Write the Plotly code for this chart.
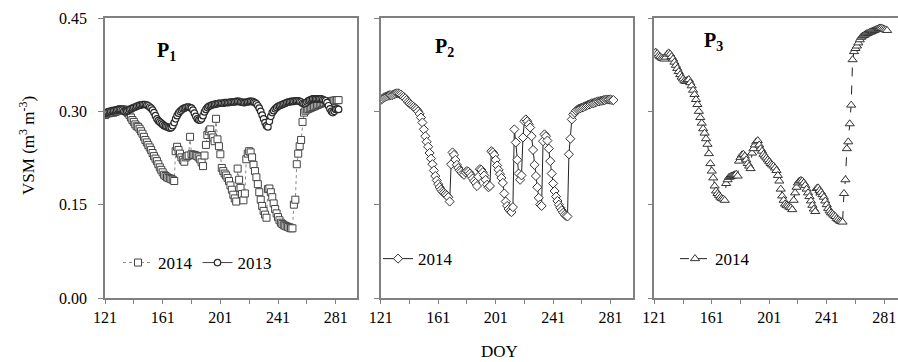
import plotly.graph_objects as go

# Day of year, daily from 121 to 283
doy = list(range(121, 284))

# Volumetric soil moisture (m3 m-3), site P1, 2014
p1_2014 = [
    0.294, 0.296, 0.297, 0.297, 0.298, 0.298, 0.298, 0.299, 0.300, 0.301,  # 121
    0.302, 0.303, 0.303, 0.303, 0.302, 0.300, 0.297, 0.294, 0.290, 0.286,  # 131
    0.283, 0.279, 0.276, 0.275, 0.272, 0.268, 0.264, 0.259, 0.254, 0.250,  # 141
    0.246, 0.242, 0.238, 0.233, 0.228, 0.224, 0.220, 0.215, 0.210, 0.206,  # 151
    0.202, 0.198, 0.196, 0.194, 0.193, 0.192, 0.191, 0.190, 0.188, 0.236,  # 161
    0.243, 0.238, 0.232, 0.226, 0.222, 0.219, 0.226, 0.228, 0.229, 0.259,  # 171
    0.231, 0.230, 0.230, 0.229, 0.228, 0.226, 0.223, 0.218, 0.212, 0.229,  # 181
    0.246, 0.262, 0.268, 0.271, 0.262, 0.258, 0.252, 0.288, 0.255, 0.244,  # 191
    0.231, 0.209, 0.204, 0.200, 0.197, 0.193, 0.188, 0.181, 0.174, 0.166,  # 201
    0.160, 0.155, 0.208, 0.190, 0.177, 0.167, 0.157, 0.168, 0.223, 0.232,  # 211
    0.236, 0.234, 0.226, 0.214, 0.204, 0.194, 0.183, 0.170, 0.158, 0.148,  # 221
    0.140, 0.134, 0.129, 0.175, 0.176, 0.170, 0.162, 0.152, 0.143, 0.136,  # 231
    0.130, 0.125, 0.121, 0.119, 0.117, 0.116, 0.115, 0.114, 0.113, 0.112,  # 241
    0.112, 0.150, 0.158, 0.215, 0.232, 0.244, 0.254, 0.283, 0.298, 0.301,  # 251
    0.303, 0.304, 0.305, 0.306, 0.307, 0.308, 0.309, 0.310, 0.311, 0.312,  # 261
    0.313, 0.314, 0.314, 0.315, 0.315, 0.316, 0.316, 0.316, 0.317, 0.317,  # 271
    0.318, 0.318, 0.318,                                                   # 281
]

# Site P1, 2013
p1_2013 = [
    0.297, 0.298, 0.299, 0.300, 0.300, 0.301, 0.301, 0.302, 0.302, 0.303,  # 121
    0.303, 0.303, 0.302, 0.300, 0.299, 0.300, 0.301, 0.303, 0.304, 0.305,  # 131
    0.306, 0.307, 0.308, 0.309, 0.310, 0.310, 0.311, 0.311, 0.311, 0.310,  # 141
    0.309, 0.307, 0.305, 0.302, 0.298, 0.293, 0.288, 0.285, 0.283, 0.281,  # 151
    0.279, 0.277, 0.276, 0.275, 0.274, 0.273, 0.274, 0.277, 0.282, 0.288,  # 161
    0.293, 0.297, 0.300, 0.302, 0.304, 0.305, 0.306, 0.307, 0.307, 0.306,  # 171
    0.305, 0.302, 0.297, 0.292, 0.288, 0.286, 0.286, 0.288, 0.293, 0.299,  # 181
    0.303, 0.306, 0.308, 0.309, 0.310, 0.311, 0.311, 0.312, 0.312, 0.313,  # 191
    0.313, 0.313, 0.313, 0.314, 0.314, 0.314, 0.314, 0.315, 0.315, 0.315,  # 201
    0.315, 0.316, 0.316, 0.316, 0.315, 0.315, 0.314, 0.314, 0.315, 0.315,  # 211
    0.316, 0.316, 0.316, 0.315, 0.314, 0.312, 0.309, 0.305, 0.300, 0.294,  # 221
    0.288, 0.282, 0.277, 0.275, 0.284, 0.292, 0.298, 0.301, 0.304, 0.306,  # 231
    0.308, 0.309, 0.310, 0.311, 0.312, 0.313, 0.314, 0.315, 0.315, 0.316,  # 241
    0.316, 0.316, 0.317, 0.317, 0.317, 0.316, 0.315, 0.313, 0.312, 0.313,  # 251
    0.315, 0.317, 0.318, 0.319, 0.320, 0.320, 0.320, 0.320, 0.320, 0.320,  # 261
    0.320, 0.319, 0.318, 0.317, 0.314, 0.309, 0.304, 0.300, 0.298, 0.300,  # 271
    0.303, 0.304, 0.303,                                                   # 281
]

# Site P2, 2014
p2_2014 = [
    0.318, 0.320, 0.322, 0.323, 0.324, 0.325, 0.326, 0.326, 0.326, 0.327,  # 121
    0.328, 0.329, 0.329, 0.328, 0.327, 0.325, 0.323, 0.321, 0.318, 0.315,  # 131
    0.313, 0.311, 0.309, 0.307, 0.305, 0.303, 0.300, 0.296, 0.290, 0.282,  # 141
    0.271, 0.260, 0.251, 0.243, 0.233, 0.224, 0.215, 0.205, 0.196, 0.189,  # 151
    0.183, 0.178, 0.174, 0.171, 0.169, 0.167, 0.165, 0.162, 0.155, 0.215,  # 161
    0.234, 0.230, 0.222, 0.214, 0.209, 0.205, 0.203, 0.200, 0.198, 0.202,  # 171
    0.204, 0.203, 0.200, 0.196, 0.192, 0.188, 0.185, 0.180, 0.195, 0.207,  # 181
    0.206, 0.202, 0.197, 0.190, 0.182, 0.178, 0.180, 0.236, 0.234, 0.230,  # 191
    0.222, 0.213, 0.206, 0.199, 0.193, 0.185, 0.168, 0.155, 0.148, 0.143,  # 201
    0.140, 0.138, 0.146, 0.271, 0.250, 0.222, 0.200, 0.190, 0.197, 0.258,  # 211
    0.284, 0.287, 0.284, 0.279, 0.274, 0.260, 0.238, 0.214, 0.196, 0.178,  # 221
    0.161, 0.150, 0.148, 0.252, 0.263, 0.260, 0.253, 0.240, 0.220, 0.200,  # 231
    0.184, 0.172, 0.163, 0.156, 0.150, 0.145, 0.141, 0.137, 0.134, 0.132,  # 241
    0.131, 0.231, 0.256, 0.287, 0.295, 0.298, 0.301, 0.303, 0.304, 0.305,  # 251
    0.306, 0.307, 0.308, 0.309, 0.310, 0.311, 0.312, 0.313, 0.313, 0.314,  # 261
    0.315, 0.316, 0.316, 0.317, 0.317, 0.318, 0.318, 0.319, 0.319, 0.319,  # 271
    0.319, 0.318, 0.318,                                                   # 281
]

# Site P3, 2014
p3_2014 = [
    0.394, 0.395, 0.393, 0.390, 0.388, 0.386, 0.385, 0.384, 0.387, 0.392,  # 121
    0.394, 0.392, 0.388, 0.384, 0.379, 0.374, 0.369, 0.364, 0.359, 0.355,  # 131
    0.352, 0.349, 0.348, 0.350, 0.351, 0.346, 0.341, 0.334, 0.327, 0.319,  # 141
    0.311, 0.300, 0.290, 0.281, 0.272, 0.265, 0.256, 0.247, 0.232, 0.216,  # 151
    0.204, 0.193, 0.180, 0.172, 0.168, 0.165, 0.162, 0.160, 0.159, 0.157,  # 161
    0.184, 0.190, 0.194, 0.195, 0.196, 0.197, 0.198, 0.199, 0.196, 0.220,  # 171
    0.226, 0.230, 0.231, 0.228, 0.222, 0.216, 0.212, 0.208, 0.233, 0.240,  # 181
    0.246, 0.251, 0.253, 0.246, 0.240, 0.236, 0.231, 0.228, 0.225, 0.222,  # 191
    0.219, 0.216, 0.214, 0.212, 0.209, 0.205, 0.197, 0.188, 0.175, 0.164,  # 201
    0.157, 0.151, 0.149, 0.148, 0.146, 0.145, 0.142, 0.157, 0.169, 0.178,  # 211
    0.185, 0.188, 0.189, 0.188, 0.185, 0.181, 0.175, 0.169, 0.163, 0.156,  # 221
    0.149, 0.143, 0.139, 0.176, 0.177, 0.173, 0.170, 0.166, 0.162, 0.156,  # 231
    0.150, 0.144, 0.140, 0.137, 0.135, 0.133, 0.131, 0.128, 0.126, 0.124,  # 241
    0.123, 0.122, 0.168, 0.190, 0.240, 0.251, 0.280, 0.310, 0.383, 0.396,  # 251
    0.401, 0.405, 0.410, 0.415, 0.419, 0.421, 0.422, 0.424, 0.425, 0.426,  # 261
    0.427, 0.428, 0.429, 0.430, 0.431, 0.432, 0.433, 0.434, 0.434, 0.433,  # 271
    0.432, 0.431, 0.430,                                                   # 281
]

x_major = [121, 161, 201, 241, 281]
x_minor = [141, 181, 221, 261]
y_ticks = [0.00, 0.15, 0.30, 0.45]
y_ticktext = ["0.00", "0.15", "0.30", "0.45"]
panel_labels = ["P<sub>1</sub>", "P<sub>2</sub>", "P<sub>3</sub>"]

FONT = "Liberation Serif"
AXIS_GREY = "#808080"
EDGE = "#333333"

fig = go.Figure()

fig.add_trace(go.Scatter(
    x=doy, y=p1_2014, name="2014", mode="lines+markers",
    xaxis="x", yaxis="y", legend="legend",
    line=dict(color="#8a8a8a", width=1, dash="dot"),
    marker=dict(symbol="square", size=7, color="white", line=dict(color="#444444", width=1)),
))
fig.add_trace(go.Scatter(
    x=doy, y=p1_2013, name="2013", mode="lines+markers",
    xaxis="x", yaxis="y", legend="legend",
    line=dict(color="#444444", width=1),
    marker=dict(symbol="circle", size=6.5, color="white", line=dict(color="#2a2a2a", width=1.2)),
))
fig.add_trace(go.Scatter(
    x=doy, y=p2_2014, name="2014", mode="lines+markers",
    xaxis="x2", yaxis="y2", legend="legend2",
    line=dict(color="#222222", width=1),
    marker=dict(symbol="diamond", size=7, color="white", line=dict(color=EDGE, width=1)),
))
fig.add_trace(go.Scatter(
    x=doy, y=p3_2014, name="2014", mode="lines+markers",
    xaxis="x3", yaxis="y3", legend="legend3",
    line=dict(color="#222222", width=1, dash="dash"),
    marker=dict(symbol="triangle-up", size=8, color="white", line=dict(color=EDGE, width=1)),
))

tick_font = dict(family=FONT, size=16, color="#000000")


def x_axis(domain, rng, anchor):
    return dict(
        domain=domain, range=rng, anchor=anchor,
        tickmode="array", tickvals=x_major, ticks="outside", ticklen=4,
        tickcolor=AXIS_GREY, tickwidth=1, tickfont=tick_font,
        minor=dict(tickmode="array", tickvals=x_minor, ticks="outside",
                   ticklen=4, tickcolor=AXIS_GREY, tickwidth=1, showgrid=False),
        showline=True, linecolor=AXIS_GREY, linewidth=1.5, mirror=True,
        showgrid=False, zeroline=False,
    )


def y_axis(anchor, labels, mirror=True):
    return dict(
        domain=[0, 1], range=[0, 0.45], anchor=anchor,
        tickmode="array", tickvals=y_ticks, ticktext=y_ticktext,
        showticklabels=labels, ticks="outside", ticklen=5,
        tickcolor=AXIS_GREY, tickwidth=1, tickfont=tick_font,
        ticklabelstandoff=8,
        showline=True, linecolor=AXIS_GREY, linewidth=1.5, mirror=mirror,
        showgrid=False, zeroline=False,
    )


legend_common = dict(
    orientation="h", yanchor="middle", xanchor="left",
    font=dict(family=FONT, size=17, color="#000000"),
    bgcolor="rgba(0,0,0,0)", borderwidth=0,
    itemwidth=30, tracegroupgap=0,
)

fig.update_layout(
    width=898, height=362,
    margin=dict(l=105, r=0, t=18, b=64),
    paper_bgcolor="white", plot_bgcolor="white",
    font=dict(family=FONT, size=16, color="#000000"),
    xaxis=x_axis([0.0, 0.3182], [121, 296], "y"),
    xaxis2=x_axis([0.3477, 0.6662], [121, 296.8], "y2"),
    xaxis3=x_axis([0.6927, 1.0], [121, 290.6], "y3"),
    yaxis=y_axis("x", True),
    yaxis2=y_axis("x2", False),
    yaxis3=y_axis("x3", False, mirror=False),
    showlegend=True,
    legend=dict(x=0.0164, y=0.125, **legend_common),
    legend2=dict(x=0.3443, y=0.139, **legend_common),
    legend3=dict(x=0.7188, y=0.139, **legend_common),
)

# Site labels inside each panel
label_pos = [("x domain", "y domain", 0.199, 0.932),
             ("x2 domain", "y2 domain", 0.205, 0.947),
             ("x3 domain", "y3 domain", 0.196, 0.968)]
for text, (xr, yr, xx, yy) in zip(panel_labels, label_pos):
    fig.add_annotation(
        text=f"<b>{text}</b>", xref=xr, yref=yr, x=xx, y=yy,
        showarrow=False, font=dict(family=FONT, size=20, color="#000000"),
    )

# Shared axis titles
fig.add_annotation(
    text="VSM (m<sup>3</sup> m<sup>-3</sup>)", xref="paper", yref="paper",
    x=-0.115, y=0.546, textangle=-90, showarrow=False,
    font=dict(family=FONT, size=17, color="#000000"),
)
fig.add_annotation(
    text="DOY", xref="paper", yref="paper", x=0.497, y=-0.232,
    showarrow=False, font=dict(family=FONT, size=17, color="#000000"),
)

fig.write_html("out.html")
